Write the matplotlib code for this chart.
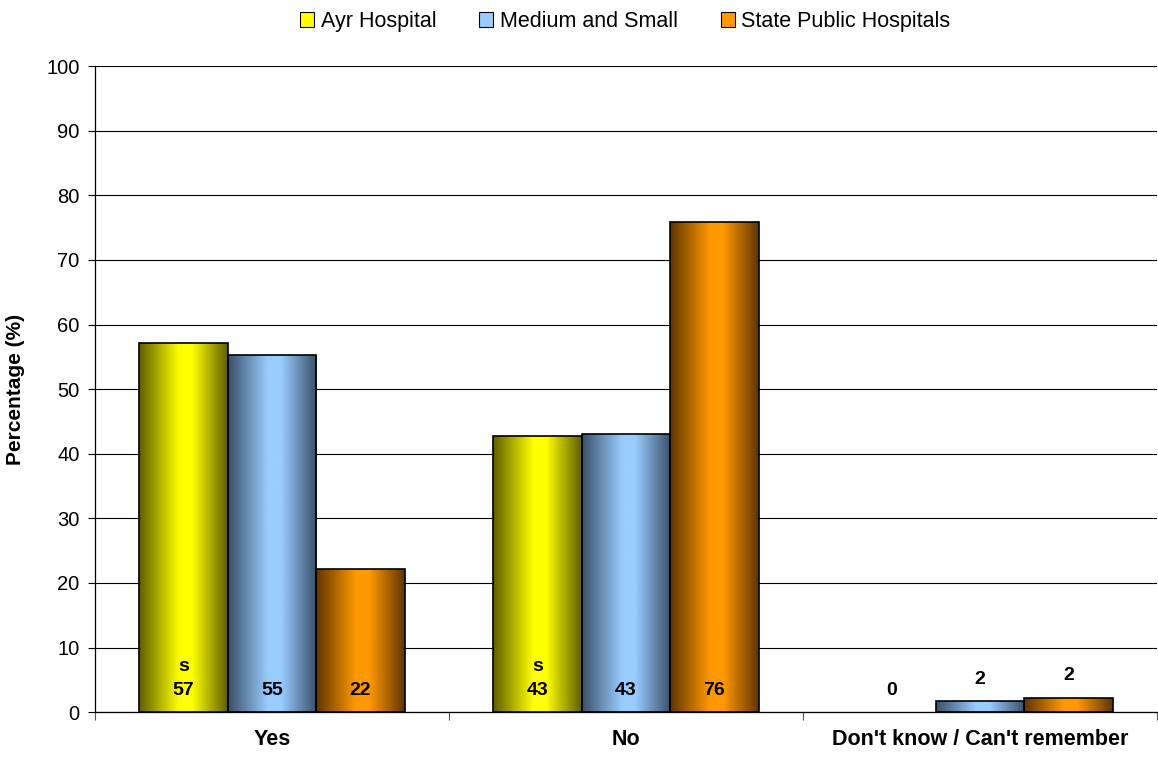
import numpy as np
import matplotlib.pyplot as plt
from matplotlib.colors import LinearSegmentedColormap
from matplotlib.patches import Patch

plt.rcParams['font.family'] = ['Liberation Sans', 'DejaVu Sans']

# Survey responses (%)
categories = ["Yes", "No", "Don't know / Can't remember"]
series = ["Ayr Hospital", "Medium and Small", "State Public Hospitals"]
ayr = [57.2, 42.8, 0.0]
medium_small = [55.3, 43.0, 1.7]
state_public = [22.1, 75.8, 2.2]
ayr_labels = ["57", "43", "0"]
medium_small_labels = ["55", "43", "2"]
state_public_labels = ["22", "76", "2"]
ayr_flags = ["s", "s", ""]

values = [ayr, medium_small, state_public]
labels = [ayr_labels, medium_small_labels, state_public_labels]

# (dark edge, bright centre) for the shaded bars
shades = [("#5e5e00", "#ffff00"),
          ("#3a4f68", "#99ccff"),
          ("#5e3500", "#ff9900")]
solid = ["#ffff00", "#99ccff", "#ff9900"]

fig = plt.figure(figsize=(11.58, 7.6), dpi=100)
ax = fig.add_axes([0.082, 0.063, 0.917, 0.85])

width = 0.25
x = np.arange(len(categories))
ramp = np.linspace(0, 1, 256).reshape(1, -1)

for i, (vals, (dark, bright)) in enumerate(zip(values, shades)):
    cmap = LinearSegmentedColormap.from_list(
        "s%d" % i, [(0, dark), (0.45, bright), (0.6, bright), (1, dark)])
    pos = x + (i - 1) * width
    bars = ax.bar(pos, vals, width, facecolor="none", edgecolor="black",
                  linewidth=1.2, zorder=3)
    for b in bars:
        if b.get_height() <= 0:
            b.set_visible(False)
            continue
        im = ax.imshow(ramp, cmap=cmap, aspect="auto", zorder=2.5,
                       extent=[b.get_x(), b.get_x() + b.get_width(),
                               0, b.get_height()])
        im.set_clip_path(b)
    # labels sit at the bar base, or just above very short bars
    for p, v, lab in zip(pos, vals, labels[i]):
        y = v + 3.4 if v < 5 else 3.4
        ax.text(p, y, lab, ha="center", va="center",
                fontsize=14, fontweight="bold", zorder=4)

for p, f in zip(x - width, ayr_flags):
    if f:
        ax.text(p, 7.0, f, ha="center", va="center",
                fontsize=14, fontweight="bold", zorder=4)

ax.set_xlim(-0.5, 2.5)
ax.set_ylim(0, 100)
ax.set_yticks(np.arange(0, 101, 10))
ax.tick_params(axis="y", labelsize=14.5, length=5, width=0.8, pad=6)
ax.set_xticks(x)
ax.set_xticklabels(categories, fontsize=15.5, fontweight="bold")
ax.tick_params(axis="x", length=0, pad=12)
ax.set_xticks([-0.5, 0.5, 1.5, 2.5], minor=True)
ax.tick_params(axis="x", which="minor", length=6, width=0.8, color="#555555")
ax.yaxis.grid(True, color="black", linewidth=0.8)
ax.set_axisbelow(True)
for s in ["top", "right"]:
    ax.spines[s].set_visible(False)
ax.spines["left"].set_linewidth(0.9)
ax.spines["bottom"].set_linewidth(0.9)
ax.set_ylabel("Percentage (%)", fontsize=15, fontweight="bold")
ax.yaxis.set_label_coords(-0.066, 0.5)

handles = [Patch(facecolor=c, edgecolor="black", linewidth=0.8) for c in solid]
fig.legend(handles, series, loc="upper center", bbox_to_anchor=(0.54, 1.0),
           ncol=3, frameon=False, fontsize=15.5, handlelength=0.65,
           handleheight=0.7, handletextpad=0.3, columnspacing=2.0,
           borderaxespad=0.1)

fig.savefig("out.png", dpi=100)
